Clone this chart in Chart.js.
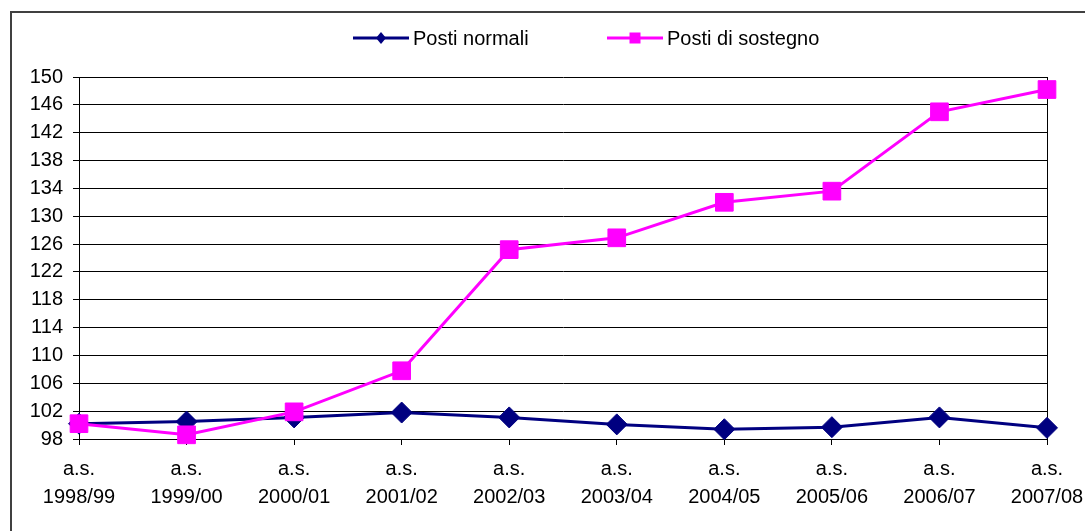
<!DOCTYPE html>
<html>
<head>
<meta charset="utf-8">
<script src="https://cdn.jsdelivr.net/npm/chart.js@4.4.0/dist/chart.umd.min.js"></script>
<style>
    html, body { margin: 0; padding: 0; background: #fff; }
    #wrap { width: 1085px; height: 531px; position: relative; }
</style>
</head>
<body>
<div id="wrap"><canvas id="chart"></canvas></div>
<script>
// --- Data ---
const schoolYears = ['1998/99', '1999/00', '2000/01', '2001/02', '2002/03',
                     '2003/04', '2004/05', '2005/06', '2006/07', '2007/08'];
const postiNormali = [100.2, 100.5, 101.1, 101.8, 101.1, 100.1, 99.4, 99.7, 101.1, 99.6];
const postiSostegno = [100.2, 98.6, 101.9, 107.8, 125.2, 126.9, 132.0, 133.6, 145.0, 148.2];
const yMin = 98, yMax = 150, yStep = 4;

const FONT = '"Liberation Sans", Arial, sans-serif';

// --- Outer frame (Excel chart border) ---
const framePlugin = {
    id: 'frame',
    beforeDraw(chart) {
        const ctx = chart.ctx;
        ctx.save();
        ctx.strokeStyle = '#404040';
        ctx.lineWidth = 2;
        ctx.strokeRect(11, 12, 1200, 700);
        ctx.restore();
    }
};

// --- Legend: line with marker in the middle, then the label ---
const lineLegendPlugin = {
    id: 'lineLegend',
    afterDraw(chart) {
        const ctx = chart.ctx;
        const starts = [353, 607];
        const y = 38;
        ctx.save();
        chart.data.datasets.forEach((ds, i) => {
            const x0 = starts[i];
            const x1 = x0 + 56;
            ctx.strokeStyle = ds.borderColor;
            ctx.lineWidth = 3;
            ctx.beginPath();
            ctx.moveTo(x0, y);
            ctx.lineTo(x1, y);
            ctx.stroke();
            ctx.fillStyle = ds.borderColor;
            const cx = (x0 + x1) / 2;
            if (ds.pointStyle === 'rect') {
                ctx.fillRect(cx - 5.5, y - 5.5, 11, 11);
            } else {
                ctx.beginPath();
                ctx.moveTo(cx, y - 6);
                ctx.lineTo(cx + 5, y);
                ctx.lineTo(cx, y + 6);
                ctx.lineTo(cx - 5, y);
                ctx.closePath();
                ctx.fill();
            }
            ctx.fillStyle = '#000';
            ctx.font = '20px ' + FONT;
            ctx.textBaseline = 'middle';
            ctx.textAlign = 'left';
            ctx.fillText(ds.label, x1 + 4, y + 1);
        });
        ctx.restore();
    }
};

const ctx = document.getElementById('chart').getContext('2d');
new Chart(ctx, {
    type: 'line',
    data: {
        labels: schoolYears.map(y => ['a.s.', y]),
        datasets: [
            {
                label: 'Posti normali',
                data: postiNormali,
                borderColor: '#000080',
                backgroundColor: '#000080',
                borderWidth: 3,
                pointStyle: 'rectRot',
                pointRadius: 10.5,
                pointBorderWidth: 1,
                pointHoverRadius: 10.5,
                tension: 0,
                clip: false,
                order: 1
            },
            {
                label: 'Posti di sostegno',
                data: postiSostegno,
                borderColor: '#FF00FF',
                backgroundColor: '#FF00FF',
                borderWidth: 3,
                pointStyle: 'rect',
                pointRadius: 12.5,
                pointBorderWidth: 1,
                pointHoverRadius: 12.5,
                tension: 0,
                clip: false,
                order: 0
            }
        ]
    },
    options: {
        responsive: true,
        maintainAspectRatio: false,
        animation: false,
        events: [],
        layout: { padding: { top: 77, right: 38, left: 0, bottom: 0 } },
        plugins: {
            legend: { display: false },
            tooltip: { enabled: false }
        },
        scales: {
            x: {
                offset: false,
                grid: {
                    drawOnChartArea: true,
                    color: c => (c.index === schoolYears.length - 1 ? '#000' : 'rgba(0,0,0,0)'),
                    tickColor: '#000',
                    tickLength: 6,
                    lineWidth: 1
                },
                border: { display: true, color: '#000', width: 1 },
                ticks: {
                    color: '#000',
                    font: { family: FONT, size: 20, lineHeight: 1.4 },
                    padding: 10,
                    maxRotation: 0,
                    autoSkip: false
                },
                afterFit: scale => {
                    scale.height = 92;
                    scale.paddingLeft = 0;
                    scale.paddingRight = 0;
                }
            },
            y: {
                min: yMin,
                max: yMax,
                grid: {
                    color: '#000',
                    tickColor: '#000',
                    tickLength: 6,
                    lineWidth: 1
                },
                border: { display: true, color: '#000', width: 1 },
                ticks: {
                    stepSize: yStep,
                    color: '#000',
                    font: { family: FONT, size: 20 },
                    padding: 10
                },
                afterFit: scale => {
                    scale.width = 79;
                    scale.paddingTop = 0;
                    scale.paddingBottom = 0;
                }
            }
        }
    },
    plugins: [framePlugin, lineLegendPlugin]
});
</script>
</body>
</html>
